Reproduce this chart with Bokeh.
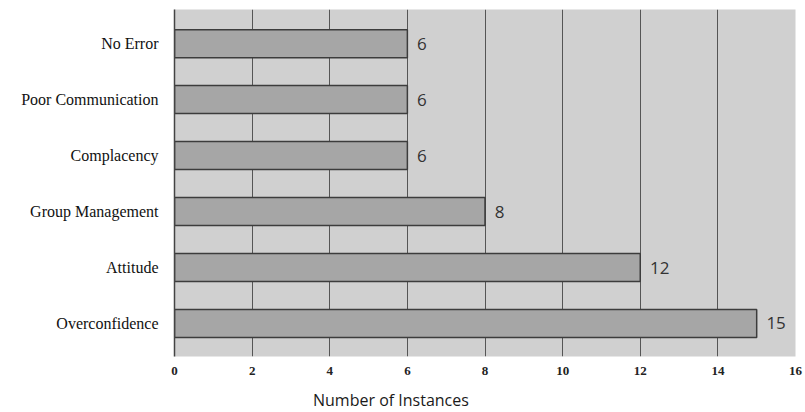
from bokeh.plotting import figure
from bokeh.models import ColumnDataSource, FixedTicker, Range1d, Div
from bokeh.layouts import column
from bokeh.core.properties import value
from bokeh.embed import file_html
from bokeh.resources import INLINE

categories = ["No Error", "Poor Communication", "Complacency", "Group Management", "Attitude", "Overconfidence"]
counts = [6, 6, 6, 8, 12, 15]
x_ticks = [0, 2, 4, 6, 8, 10, 12, 14, 16]
x_title = "Number of Instances"

ypos = list(range(len(categories)))
src = ColumnDataSource(dict(y=ypos, cnt=counts, lab=[str(c) for c in counts],
                            lx=[c + 0.25 for c in counts]))

p = figure(width=805, height=388, output_backend="svg", toolbar_location=None,
           x_range=Range1d(0, 16), y_range=Range1d(5.59, -0.61),
           min_border_left=174, min_border_right=10, min_border_top=9, min_border_bottom=32)
p.background_fill_color = "#d0d0d0"
p.border_fill_color = "white"
p.outline_line_color = None

p.hbar(y="y", right="cnt", left=0, height=0.5, source=src,
       fill_color="#a6a6a6", line_color="#3c3c3c", line_width=1.5)
p.text(x="lx", y="y", text="lab", source=src, text_baseline="middle", text_align="left",
       text_font=value("Open Sans"), text_font_size="17px", text_color="#333333")

p.xaxis.ticker = FixedTicker(ticks=x_ticks)
p.xaxis.axis_line_color = None
p.xaxis.major_tick_line_color = None
p.xaxis.minor_tick_line_color = None
p.xaxis.major_label_text_font = "Liberation Serif"
p.xaxis.major_label_text_font_style = "bold"
p.xaxis.major_label_text_font_size = "13px"
p.xaxis.major_label_text_color = "#222222"
p.xaxis.major_label_standoff = 4

p.yaxis.ticker = FixedTicker(ticks=ypos)
p.yaxis.major_label_overrides = {i: c for i, c in enumerate(categories)}
p.yaxis.axis_line_color = "#444444"
p.yaxis.axis_line_width = 1.5
p.yaxis.major_tick_line_color = None
p.yaxis.minor_tick_line_color = None
p.yaxis.major_label_text_font = "Liberation Serif"
p.yaxis.major_label_text_font_size = "16px"
p.yaxis.major_label_text_color = "#111111"
p.yaxis.major_label_standoff = 10

p.xgrid.ticker = FixedTicker(ticks=[2, 4, 6, 8, 10, 12, 14])
p.xgrid.grid_line_color = "#555555"
p.xgrid.grid_line_width = 1
p.ygrid.grid_line_color = None

div = Div(text=x_title, width=805, height=20,
          styles={"padding-left": "308px", "font-family": "Open Sans", "font-size": "16px",
                  "color": "#1a1a1a", "line-height": "14px"})

layout = column(p, div, spacing=0)
open("out.html", "w").write(file_html(layout, INLINE))
